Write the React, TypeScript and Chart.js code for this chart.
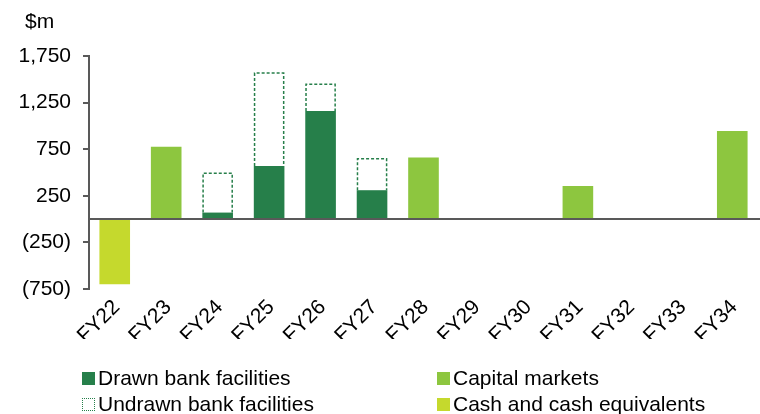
import React, { useEffect, useRef } from "react";
import { Chart, registerables } from "chart.js";

Chart.register(...registerables);

const categories = ["FY22", "FY23", "FY24", "FY25", "FY26", "FY27", "FY28", "FY29", "FY30", "FY31", "FY32", "FY33", "FY34"];
const drawnBank = [null, null, 70, 570, 1160, 310, null, null, null, null, null, null, null];
const undrawnBank = [null, null, 430, 1005, 295, 345, null, null, null, null, null, null, null];
const capitalMarkets = [null, 775, null, null, null, null, 660, null, null, 355, null, null, 945];
const cashEquivalents = [-700, null, null, null, null, null, null, null, null, null, null, null, null];
const yTicks = [-750, -250, 250, 750, 1250, 1750];

const DARK = "#267F4A";
const CAPITAL = "#8DC63F";
const CASH = "#C5D92D";
const AXIS = "#595959";
const FONT = "'Liberation Sans', Arial, sans-serif";
const FS = 21;

const fmt = (v: number) => {
  const s = Math.abs(v).toLocaleString("en-US");
  return v < 0 ? `(${s})` : s;
};

const overlayPlugin = {
  id: "overlay",
  afterDatasetsDraw(chart: any) {
    const { ctx, chartArea, scales } = chart;
    const meta = chart.getDatasetMeta(1);
    ctx.save();
    ctx.strokeStyle = DARK;
    ctx.lineWidth = 1.5;
    ctx.setLineDash([3, 2]);
    meta.data.forEach((el: any, i: number) => {
      const v = undrawnBank[i];
      if (v == null) return;
      const p = el.getProps(["x", "y", "base", "width"], true);
      const l = p.x - p.width / 2 + 0.75;
      const r = p.x + p.width / 2 - 0.75;
      const t = Math.min(p.y, p.base) + 0.75;
      const b = Math.max(p.y, p.base);
      ctx.beginPath();
      ctx.moveTo(l, b);
      ctx.lineTo(l, t);
      ctx.lineTo(r, t);
      ctx.lineTo(r, b);
      ctx.stroke();
    });
    ctx.restore();
    const y0 = scales.y.getPixelForValue(0);
    ctx.save();
    ctx.strokeStyle = AXIS;
    ctx.lineWidth = 2;
    ctx.beginPath();
    ctx.moveTo(chartArea.left, y0);
    ctx.lineTo(chartArea.right + 2, y0);
    ctx.stroke();
    ctx.restore();
  },
};

export default function App() {
  const ref = useRef<HTMLCanvasElement>(null);
  useEffect(() => {
    if (!ref.current) return;
    const chart = new Chart(ref.current, {
      type: "bar",
      data: {
        labels: categories,
        datasets: [
          { label: "Drawn bank facilities", data: drawnBank as any, backgroundColor: DARK, borderWidth: 0 },
          { label: "Undrawn bank facilities", data: undrawnBank as any, backgroundColor: "rgba(255,255,255,0)", borderWidth: 0 },
          { label: "Capital markets", data: capitalMarkets as any, backgroundColor: CAPITAL, borderWidth: 0 },
          { label: "Cash and cash equivalents", data: cashEquivalents as any, backgroundColor: CASH, borderWidth: 0 },
        ],
      },
      options: {
        responsive: false,
        animation: false,
        devicePixelRatio: 1,
        layout: { padding: { left: 0, top: 56, right: 2, bottom: 75 } },
        datasets: { bar: { categoryPercentage: 1, barPercentage: 0.595 } },
        plugins: { legend: { display: false }, tooltip: { enabled: false }, title: { display: false } },
        scales: {
          x: {
            stacked: true,
            grid: { display: false, drawTicks: false },
            border: { display: false },
            ticks: {
              autoSkip: false,
              minRotation: 45,
              maxRotation: 45,
              padding: 6,
              labelOffset: 2,
              color: "#000",
              font: { family: FONT, size: FS },
            },
            afterFit: (s: any) => { s.height = 50; },
          },
          y: {
            stacked: true,
            min: -750,
            max: 1750,
            afterBuildTicks: (s: any) => { s.ticks = yTicks.map((v) => ({ value: v })); },
            grid: { drawOnChartArea: false, drawTicks: true, tickLength: 6, color: AXIS, lineWidth: 2 },
            border: { display: true, color: AXIS, width: 2 },
            ticks: {
              padding: 12,
              color: "#000",
              font: { family: FONT, size: FS },
              callback: (v: any) => fmt(Number(v)),
            },
            afterFit: (s: any) => { s.width = 89; },
          },
        },
      },
      plugins: [overlayPlugin],
    });
    return () => chart.destroy();
  }, []);

  const textStyle: React.CSSProperties = { fontFamily: FONT, fontSize: FS, color: "#000", lineHeight: "22px", whiteSpace: "nowrap" };
  const row = (left: number, top: number, marker: React.CSSProperties, text: string, gap: number) => (
    <div style={{ position: "absolute", left, top, height: 22, display: "flex", alignItems: "center" }}>
      <span style={{ display: "inline-block", width: 13, height: 13, boxSizing: "border-box", ...marker }} />
      <span style={{ ...textStyle, marginLeft: gap }}>{text}</span>
    </div>
  );

  return (
    <div style={{ position: "fixed", left: 0, top: 0, width: 760, height: 414, overflow: "hidden", background: "#fff" }}>
      <canvas ref={ref} width={760} height={414} style={{ position: "absolute", left: 0, top: 0 }} />
      <div style={{ ...textStyle, position: "absolute", left: 25, top: 10 }}>$m</div>
      {row(82, 367, { background: DARK }, "Drawn bank facilities", 3)}
      {row(82, 393, { border: `1px dotted ${DARK}` }, "Undrawn bank facilities", 3)}
      {row(437, 367, { background: CAPITAL }, "Capital markets", 3)}
      {row(437, 393, { background: CASH }, "Cash and cash equivalents", 3)}
    </div>
  );
}
